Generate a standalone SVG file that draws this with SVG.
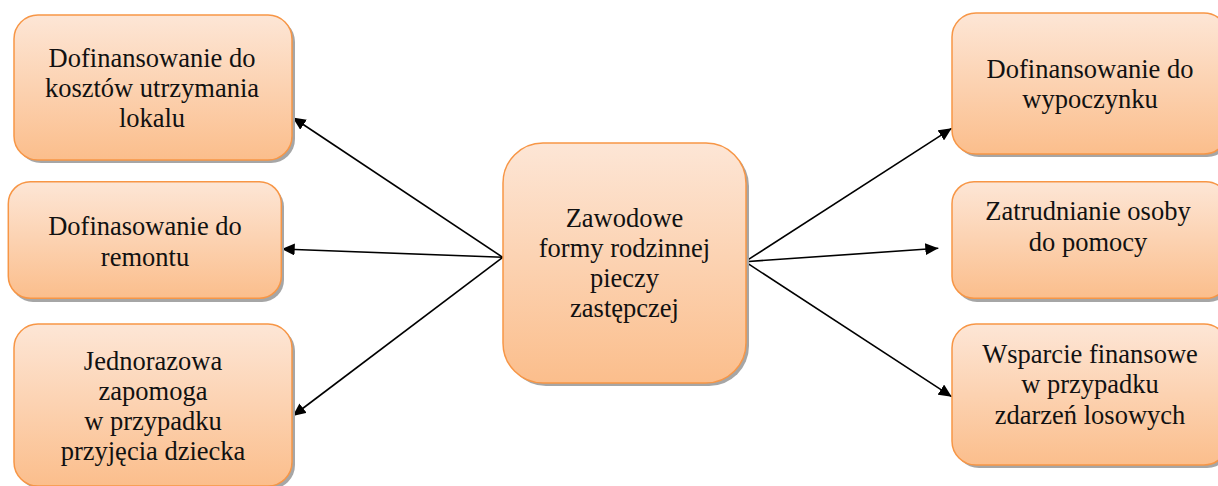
<svg xmlns="http://www.w3.org/2000/svg" width="1218" height="486" viewBox="0 0 1218 486">
<style>
.box{fill:url(#g);stroke:#f79646;stroke-width:1.5}
.sh{fill:#a6a6a6}
.t{font-family:"Liberation Serif","Times New Roman",serif;font-size:26.5px;fill:#111;text-anchor:middle}
.c{stroke:#000;stroke-width:1.6;fill:none;marker-end:url(#ah)}
</style>
<defs>
<linearGradient id="g" x1="0" y1="0" x2="0" y2="1">
<stop offset="0" stop-color="#fde6d6"/>
<stop offset="1" stop-color="#fbbe8c"/>
</linearGradient>
<marker id="ah" markerUnits="userSpaceOnUse" markerWidth="14" markerHeight="12" refX="13" refY="6" orient="auto" viewBox="0 0 14 12">
<path d="M0,0 L13,6 L0,12 z" fill="#000"/>
</marker>
</defs>
<g id="connectors">
<line class="c" x1="502.7" y1="257.3" x2="292.7" y2="117.5"/>
<line class="c" x1="502.7" y1="257.3" x2="281.7" y2="249"/>
<line class="c" x1="502.7" y1="257.3" x2="292.7" y2="416"/>
<line class="c" x1="745" y1="261.7" x2="951.7" y2="128.3"/>
<line class="c" x1="745" y1="261.7" x2="938.3" y2="248.3"/>
<line class="c" x1="745" y1="261.7" x2="951.7" y2="396.7"/>
</g>
<g id="n1">
<rect class="sh" x="17" y="18" width="278" height="145" rx="24"/>
<rect class="box" x="14" y="15" width="278" height="145" rx="24"/>
<text class="t" x="152" y="67">Dofinansowanie do</text>
<text class="t" x="152" y="97">kosztów utrzymania</text>
<text class="t" x="152" y="127">lokalu</text>
</g>
<g id="n2">
<rect class="sh" x="11" y="185" width="273" height="117" rx="22"/>
<rect class="box" x="8.3" y="181.7" width="273" height="116.6" rx="22"/>
<text class="t" x="145" y="235">Dofinasowanie do</text>
<text class="t" x="145" y="266">remontu</text>
</g>
<g id="n3">
<rect class="sh" x="17" y="327" width="278" height="162" rx="24"/>
<rect class="box" x="14" y="324" width="278" height="162" rx="24"/>
<text class="t" x="153" y="370">Jednorazowa</text>
<text class="t" x="153" y="400">zapomoga</text>
<text class="t" x="153" y="430">w przypadku</text>
<text class="t" x="153" y="460">przyjęcia dziecka</text>
</g>
<g id="center">
<rect class="sh" x="506" y="146" width="243" height="240" rx="40"/>
<rect class="box" x="503" y="143" width="243" height="240" rx="40"/>
<text class="t" x="624.5" y="227">Zawodowe</text>
<text class="t" x="624.5" y="257">formy rodzinnej</text>
<text class="t" x="624.5" y="287">pieczy</text>
<text class="t" x="624.5" y="317">zastępczej</text>
</g>
<g id="r1">
<rect class="sh" x="955" y="16" width="276" height="141" rx="24"/>
<rect class="box" x="952" y="13" width="276" height="141" rx="24"/>
<text class="t" x="1090" y="78">Dofinansowanie do</text>
<text class="t" x="1090" y="108">wypoczynku</text>
</g>
<g id="r2">
<rect class="sh" x="955" y="185" width="276" height="117" rx="22"/>
<rect class="box" x="952" y="181.7" width="276" height="116.6" rx="22"/>
<text class="t" x="1088" y="220">Zatrudnianie osoby</text>
<text class="t" x="1088" y="251">do pomocy</text>
</g>
<g id="r3">
<rect class="sh" x="955" y="327" width="276" height="141" rx="24"/>
<rect class="box" x="952" y="324" width="276" height="141" rx="24"/>
<text class="t" x="1090" y="363">Wsparcie finansowe</text>
<text class="t" x="1090" y="393">w przypadku</text>
<text class="t" x="1090" y="424">zdarzeń losowych</text>
</g>
</svg>
